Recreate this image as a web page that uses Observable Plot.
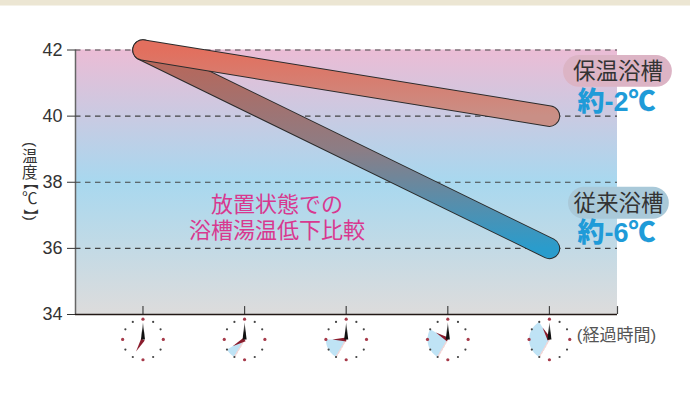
<!DOCTYPE html>
<html><head><meta charset="utf-8">
<script src="https://cdn.jsdelivr.net/npm/d3@7"></script>
<script src="https://cdn.jsdelivr.net/npm/@observablehq/plot@0.6"></script>
<style>html,body{margin:0;padding:0;background:#fff}svg{display:block}</style>
</head><body><div id="chart"></div>
<script>
const hours = [7, 8, 9, 10, 11];
const tempTicks = [34, 36, 38, 40, 42];
const gridTemps = [36, 38, 40, 42];
const lineHours = [7, 11];
const insulatedTemps = [42, 40];
const conventionalTemps = [42, 36];
const insulatedName = "保温浴槽", insulatedDrop = "約-2℃";
const conventionalName = "従来浴槽", conventionalDrop = "約-6℃";
const noteLines = ["放置状態での", "浴槽湯温低下比較"];
const yTitleUpright = [["温", 38.75], ["度", 38.28], ["℃", 37.48]];
const yTitleTurned = [["(", 39.145], ["【", 37.99], ["】", 36.97], [")", 36.91]];
const xTitle = "(経過時間)";

const jp = '"Liberation Sans", "Noto Sans CJK JP"';
const table = (xs, ys) => xs.map((x, i) => ({x, y: ys[i]}));
const upper = table(lineHours, insulatedTemps), lower = table(lineHours, conventionalTemps);

// clock-face geometry, in scale units
const clockY = 33.245, rx = 0.2, ry = 0.613;
const at = (h, deg, k) => ({x: h + rx*k*Math.sin(deg*Math.PI/180), y: clockY + ry*k*Math.cos(deg*Math.PI/180)});
const faceDots = hours.flatMap(h => d3.range(12).map(i => ({...at(h, i*30, 1), major: i % 3 === 0})));
const wedges = hours.slice(1).flatMap(h => {
  const end = 210 + (h - 7)*30;
  return [at(h,0,0), ...d3.range(210, end + 0.1, 5).map(d => at(h, d, 1)), at(h,0,0)].map(p => ({...p, id: h}));
});
const wedgeEdges = hours.slice(1).flatMap(h => [at(h,210,0), at(h,210,0.95)].map(p => ({...p, id: h})));
const minuteHands = hours.flatMap(h => [at(h,90,0.1), at(h,0,0.85), at(h,270,0.1)].map(p => ({...p, id: h})));
const hourHands = hours.flatMap(h => {
  const d = 210 + (h-7)*30;
  return [at(h,d+90,0.1), at(h,d,0.68), at(h,d-90,0.1)].map(p => ({...p, id: h}));
});

function defs() {
  const s = d3.create("svg:defs");
  const grad = (id, stops) => {
    const g = s.append("linearGradient").attr("id", id).attr("x1",0).attr("y1",0).attr("x2",0).attr("y2",1);
    stops.forEach(([o,c]) => g.append("stop").attr("offset",o).attr("stop-color",c));
  };
  grad("bg", [[0,"#ebbcd5"],[0.5,"#a8d8ef"],[1,"#dddcdc"]]);
  grad("up", [[0,"#e26f5e"],[1,"#c98f86"]]);
  grad("low", [[0,"#bd6455"],[0.5,"#8c7d85"],[1,"#2a9ccc"]]);
  grad("hand", [[0,"#888"],[0.6,"#111"],[1,"#111"]]);
  return s.node();
}

const plot = Plot.plot({
  width: 690, height: 394,
  marginTop: 49.5, marginBottom: 80, marginLeft: 75, marginRight: 73,
  style: {background: "transparent", fontFamily: jp, overflow: "visible"},
  x: {domain: [6.336, 11.67], axis: null},
  y: {domain: [34, 42]},
  marks: [
    defs,
    Plot.rect([0], {x1: 5.5, x2: 12.5, y1: 43.33, y2: 44, fill: "#ece6d3"}),
    Plot.rect([0], {x1: 6.336, x2: 11.67, y1: 34, y2: 42, fill: "url(#bg)"}),
    Plot.ruleX([6.336], {y1: 34, y2: 42, stroke: "#666", strokeWidth: 1.5}),
    Plot.ruleY(gridTemps, {x1: 6.336, x2: 11.67, stroke: "#444", strokeWidth: 1.1, strokeDasharray: "5.5,4.5"}),
    Plot.axisY({ticks: tempTicks, tickSize: 8, tickPadding: 5, label: null, fontSize: 18, fontFamily: "Liberation Sans", color: "#333", stroke: "#333"}),
    Plot.ruleX([...hours, 11.67], {y1: 34, y2: 34.24, stroke: "#444", strokeWidth: 1.2}),
    Plot.ruleY([34], {x1: 6.336, x2: 11.67, stroke: "#231815", strokeWidth: 1.5}),

    Plot.line(lower, {x: "x", y: "y", stroke: "#2b2b2b", strokeWidth: 21.5, strokeLinecap: "round"}),
    Plot.line(lower, {x: "x", y: "y", stroke: "url(#low)", strokeWidth: 19.5, strokeLinecap: "round"}),
    Plot.line(upper, {x: "x", y: "y", stroke: "#2b2b2b", strokeWidth: 21.5, strokeLinecap: "round"}),
    Plot.line(upper, {x: "x", y: "y", stroke: "url(#up)", strokeWidth: 19.5, strokeLinecap: "round"}),

    Plot.rect([0], {x1: 11.139, x2: 12.21, y1: 40.87, y2: 41.83, fill: "#dcb4c5", rx: 16}),
    Plot.rect([0], {x1: 11.188, x2: 12.18, y1: 36.88, y2: 37.85, fill: "#a9c9d9", rx: 16}),
    Plot.text([insulatedName], {x: 11.675, y: 41.35, text: d => d, fontSize: 22.5, fill: "#333"}),
    Plot.text([conventionalName], {x: 11.68, y: 37.36, text: d => d, fontSize: 22.5, fill: "#333"}),
    Plot.text([insulatedDrop], {x: 11.66, y: 40.41, text: d => d, fontSize: 27, fontWeight: 900, fill: "#1f9bd8"}),
    Plot.text([conventionalDrop], {x: 11.66, y: 36.45, text: d => d, fontSize: 27, fontWeight: 900, fill: "#1f9bd8"}),
    Plot.text([noteLines.join("\n")], {x: 8.32, y: 36.97, text: d => d, fontSize: 22, lineHeight: 1.19, fill: "#d8388f"}),

    Plot.line(wedges, {x: "x", y: "y", z: "id", fill: "#bfe3f5", stroke: "none"}),
    Plot.line(wedgeEdges, {x: "x", y: "y", z: "id", stroke: "#f2d6d6", strokeWidth: 1.5, strokeDasharray: "2,1.5"}),
    Plot.dot(faceDots.filter(d => !d.major), {x: "x", y: "y", r: 1.1, fill: "#444"}),
    Plot.dot(faceDots.filter(d => d.major), {x: "x", y: "y", r: 1.6, fill: "#a63a4a"}),
    Plot.line(hourHands, {x: "x", y: "y", z: "id", fill: "#8a1c2c", stroke: "none"}),
    Plot.line(minuteHands, {x: "x", y: "y", z: "id", fill: "url(#hand)", stroke: "none"}),

    Plot.text([xTitle], {x: 11.66, y: 33.37, text: d => d, fontSize: 17, fill: "#555"}),
    Plot.text(yTitleUpright, {x: 5.885, y: d => d[1], text: d => d[0], fontSize: 15.5, fill: "#333"}),
    Plot.text(yTitleTurned, {x: 5.885, y: d => d[1], text: d => d[0], rotate: 90, fontSize: 15, fill: "#333"})
  ]
});
document.getElementById("chart").append(plot);
</script></body></html>
